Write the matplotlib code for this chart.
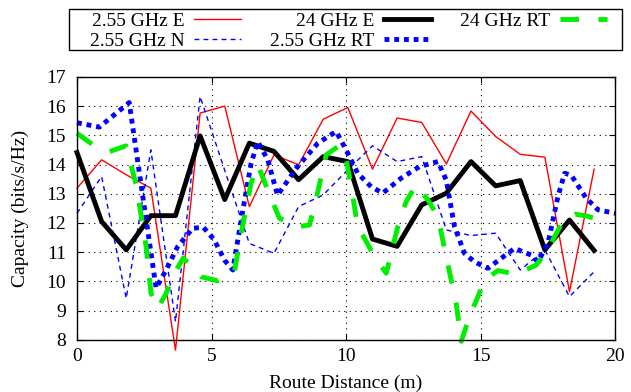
#!/usr/bin/env python3
"""
Capacity along the route: 2.55 GHz and 24 GHz, measured / ray tracing.
"""

import matplotlib
matplotlib.use("Agg")
import matplotlib.pyplot as plt
from matplotlib.patches import Rectangle

# sample positions of the measured series (m)
route_x = [0.0, 0.915, 1.83, 2.745, 3.66, 4.575, 5.49, 6.405, 7.32, 8.235, 9.15,
           10.065, 10.98, 11.895, 12.81, 13.725, 14.64, 15.555, 16.47, 17.385, 18.3, 19.215]

cap_255_e = [13.19, 14.16, 13.65, 13.19, 7.65, 15.76, 16.0, 12.56, 14.33, 13.99, 15.55,
             15.95, 13.84, 15.59, 15.44, 14.02, 15.83, 14.96, 14.35, 14.25, 9.65, 13.84]
cap_255_n = [12.33, 13.59, 9.42, 14.5, 8.62, 16.33, 13.8, 11.3, 10.96, 12.56, 12.96,
             13.82, 14.64, 14.1, 14.27, 11.76, 11.57, 11.65, 10.39, 11.08, 9.48, 10.33]
cap_24_e = [14.41, 12.05, 11.08, 12.25, 12.25, 14.98, 12.8, 14.73, 14.45, 13.48, 14.27,
            14.1, 11.45, 11.2, 12.62, 13.02, 14.1, 13.27, 13.45, 11.08, 12.1, 11.06]

# ray tracing curves, traced point by point
rt_255_x = [0.0, 0.83, 1.94, 2.94, 3.31, 3.74, 4.3, 4.7, 5.1, 5.48, 5.79, 6.1, 6.47,
            6.72, 7.09, 7.45, 8.2, 8.95, 9.63, 10.0, 10.43, 10.93, 11.36, 12.04, 12.73,
            13.41, 13.72, 14.03, 14.4, 14.77, 15.27, 15.76, 16.26, 16.88, 17.13, 17.5,
            17.87, 18.12, 18.36, 18.92, 19.36, 20.0]
rt_255_y = [15.43, 15.28, 16.12, 9.77, 10.39, 11.19, 11.82, 11.85, 11.42, 10.73, 10.39,
            12.1, 14.04, 14.78, 14.16, 12.95, 13.93, 14.73, 15.13, 14.5, 13.7, 13.24,
            13.02, 13.53, 13.93, 14.1, 13.47, 11.87, 10.96, 10.67, 10.45, 10.79, 11.13,
            10.9, 10.67, 11.3, 12.9, 13.7, 13.64, 12.85, 12.45, 12.33]

rt_24_x = [0.0, 0.6, 1.2, 1.82, 2.2, 2.57, 2.75, 3.0, 3.31, 3.62, 3.95, 4.61, 5.23,
           5.85, 6.1, 6.47, 6.72, 6.96, 7.52, 8.2, 8.64, 8.88, 9.26, 9.69, 9.94, 10.19,
           10.43, 10.68, 11.05, 11.49, 11.92, 12.23, 12.6, 13.04, 13.41, 13.72, 14.09,
           14.28, 14.58, 14.9, 15.14, 15.64, 16.32, 17.06, 17.31, 17.68, 18.12, 18.5,
           18.92, 19.23, 19.54]
rt_24_y = [15.07, 14.67, 14.44, 14.64, 13.3, 11.19, 9.6, 9.08, 9.59, 10.28, 10.8, 10.16,
           10.02, 10.33, 11.65, 13.36, 13.99, 13.42, 12.16, 11.87, 11.93, 12.79, 14.33,
           14.61, 14.5, 13.24, 11.87, 11.48, 10.85, 10.28, 11.87, 12.73, 13.3, 12.79,
           12.22, 10.85, 9.25, 7.95, 8.79, 9.48, 10.05, 10.37, 10.25, 10.56, 10.85, 11.42,
           12.16, 12.3, 12.24, 12.16, 12.05]

x_ticks = [0, 5, 10, 15, 20]
y_ticks = [8, 9, 10, 11, 12, 13, 14, 15, 16, 17]

GREEN = "#00ee00"


def main():
    plt.rcParams["font.family"] = ["Liberation Serif", "DejaVu Serif"]
    plt.rcParams["font.size"] = 14

    fig = plt.figure(figsize=(6.31, 3.92), dpi=100)
    ax = fig.add_axes([0.122, 0.133, 0.853, 0.671])

    ax.plot(route_x, cap_255_e, color="red", lw=1.0, label="2.55 GHz E", clip_on=False)
    ax.plot(route_x, cap_255_n, color="blue", lw=1.0, dashes=(3.5, 3),
            label="2.55 GHz N", clip_on=False)
    ax.plot(route_x, cap_24_e, color="black", lw=3.5, label="24 GHz E", clip_on=False)
    ax.plot(rt_255_x, rt_255_y, color="blue", lw=3.5, dashes=(1, 1),
            label="2.55 GHz RT", clip_on=False)
    ax.plot(rt_24_x, rt_24_y, color=GREEN, lw=3.5, dashes=(3.8, 4),
            label="24 GHz RT", clip_on=False)

    ax.set_xlim(0, 20)
    ax.set_ylim(8, 17)
    ax.set_xticks(x_ticks)
    ax.set_yticks(y_ticks)
    ax.tick_params(direction="in", length=4, top=True, right=True)
    ax.tick_params(axis="y", pad=8)
    ax.tick_params(axis="x", pad=6)
    ax.grid(True, color="black", linestyle=(0, (1, 4)), linewidth=0.8)
    for sp in ax.spines.values():
        sp.set_linewidth(1.0)

    ax.set_xlabel("Route Distance (m)", labelpad=7)
    ax.set_ylabel("Capacity (bits/s/Hz)", labelpad=12)

    # key box spanning the top of the figure
    fig.patches.append(Rectangle((69 / 631, 1 - 50 / 392), 553 / 631, 41 / 392,
                                 transform=fig.transFigure, fill=False,
                                 edgecolor="black", linewidth=1.0))
    fig.legend(
        loc="upper left",
        bbox_to_anchor=(90 / 631, 1 - 12 / 392),
        ncol=3,
        markerfirst=False,
        handlelength=2.4,
        handletextpad=0.5,
        columnspacing=1.5,
        labelspacing=0.12,
        borderpad=0,
        borderaxespad=0,
        frameon=False,
    )

    fig.savefig("out.png", dpi=100)
    plt.close(fig)


if __name__ == "__main__":
    main()
